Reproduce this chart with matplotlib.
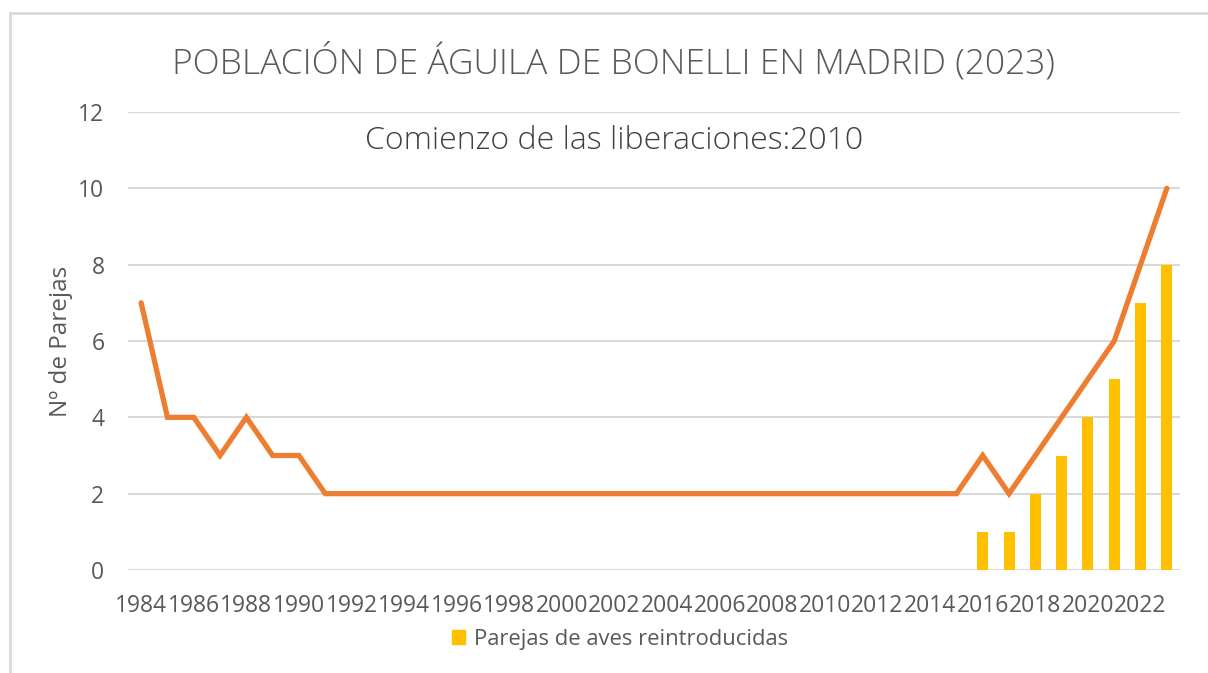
import matplotlib
matplotlib.use("Agg")
import matplotlib.pyplot as plt
from matplotlib.patches import Rectangle, Patch
import numpy as np

years = list(range(1984, 2024))
parejas = [7, 4, 4, 3, 4, 3, 3, 2, 2, 2,
           2, 2, 2, 2, 2, 2, 2, 2, 2, 2,
           2, 2, 2, 2, 2, 2, 2, 2, 2, 2,
           2, 2, 3, 2, 3, 4, 5, 6, 8, 10]
bar_years = [2016, 2017, 2018, 2019, 2020, 2021, 2022, 2023]
reintroducidas = [1, 1, 2, 3, 4, 5, 7, 8]
tick_years = list(range(1984, 2023, 2))

title = "POBLACIÓN DE ÁGUILA DE BONELLI EN MADRID (2023)"
subtitle = "Comienzo de las liberaciones:2010"
ylabel = "Nº de Parejas"
legend_label = "Parejas de aves reintroducidas"

plt.rcParams['font.family'] = ['Open Sans', 'DejaVu Sans']
TXT = "#595959"
GRID = "#d9d9d9"
ORANGE = "#ED7D31"
YELLOW = "#FFC000"

W, H = 1208, 673
fig = plt.figure(figsize=(W / 100, H / 100), dpi=100)

# chart frame
fig.patches.append(Rectangle((10 / W, -0.1), 1.2, (H - 13) / H + 0.1,
                             transform=fig.transFigure, fill=False,
                             edgecolor=GRID, linewidth=2))

ax = fig.add_axes([128 / W, (H - 570) / H, (1180 - 128) / W, (570 - 112) / H])

xidx = np.arange(len(years))
bar_idx = [years.index(y) for y in bar_years]
ax.bar(bar_idx, reintroducidas, width=0.42, color=YELLOW, zorder=2,
       label=legend_label)
ax.plot(xidx, parejas, color=ORANGE, linewidth=3.8, zorder=3,
        solid_joinstyle='miter', solid_capstyle='round')

ax.set_xlim(-0.5, len(years) - 0.5)
ax.set_ylim(0, 12)
ax.set_yticks(range(0, 13, 2))
ax.set_xticks([years.index(y) for y in tick_years])
ax.set_xticklabels([str(y) for y in tick_years])
ax.grid(axis='y', color=GRID, linewidth=1.5, zorder=0)
ax.set_axisbelow(True)
for s in ax.spines.values():
    s.set_visible(False)
ax.tick_params(axis='both', length=0, colors=TXT, labelsize=16.5)
ax.tick_params(axis='x', pad=17)
ax.tick_params(axis='y', pad=17)
ax.set_ylabel(ylabel, color=TXT, fontsize=17.5, labelpad=4)

fig.text(613 / W, 1 - 62 / H, title, ha='center', va='center',
         fontsize=25.5, color=TXT, fontweight='light')
fig.text(614 / W, 1 - 141 / H, subtitle, ha='center', va='center',
         fontsize=23, color="#404040", fontweight='light')

fig.legend(handles=[Patch(color=YELLOW, label=legend_label)],
           loc='center', bbox_to_anchor=(620 / W, 1 - 639 / H),
           frameon=False, fontsize=15.8, handlelength=0.6, handleheight=0.6,
           handletextpad=0.4, labelcolor=TXT)

fig.savefig("out.png", dpi=100)
